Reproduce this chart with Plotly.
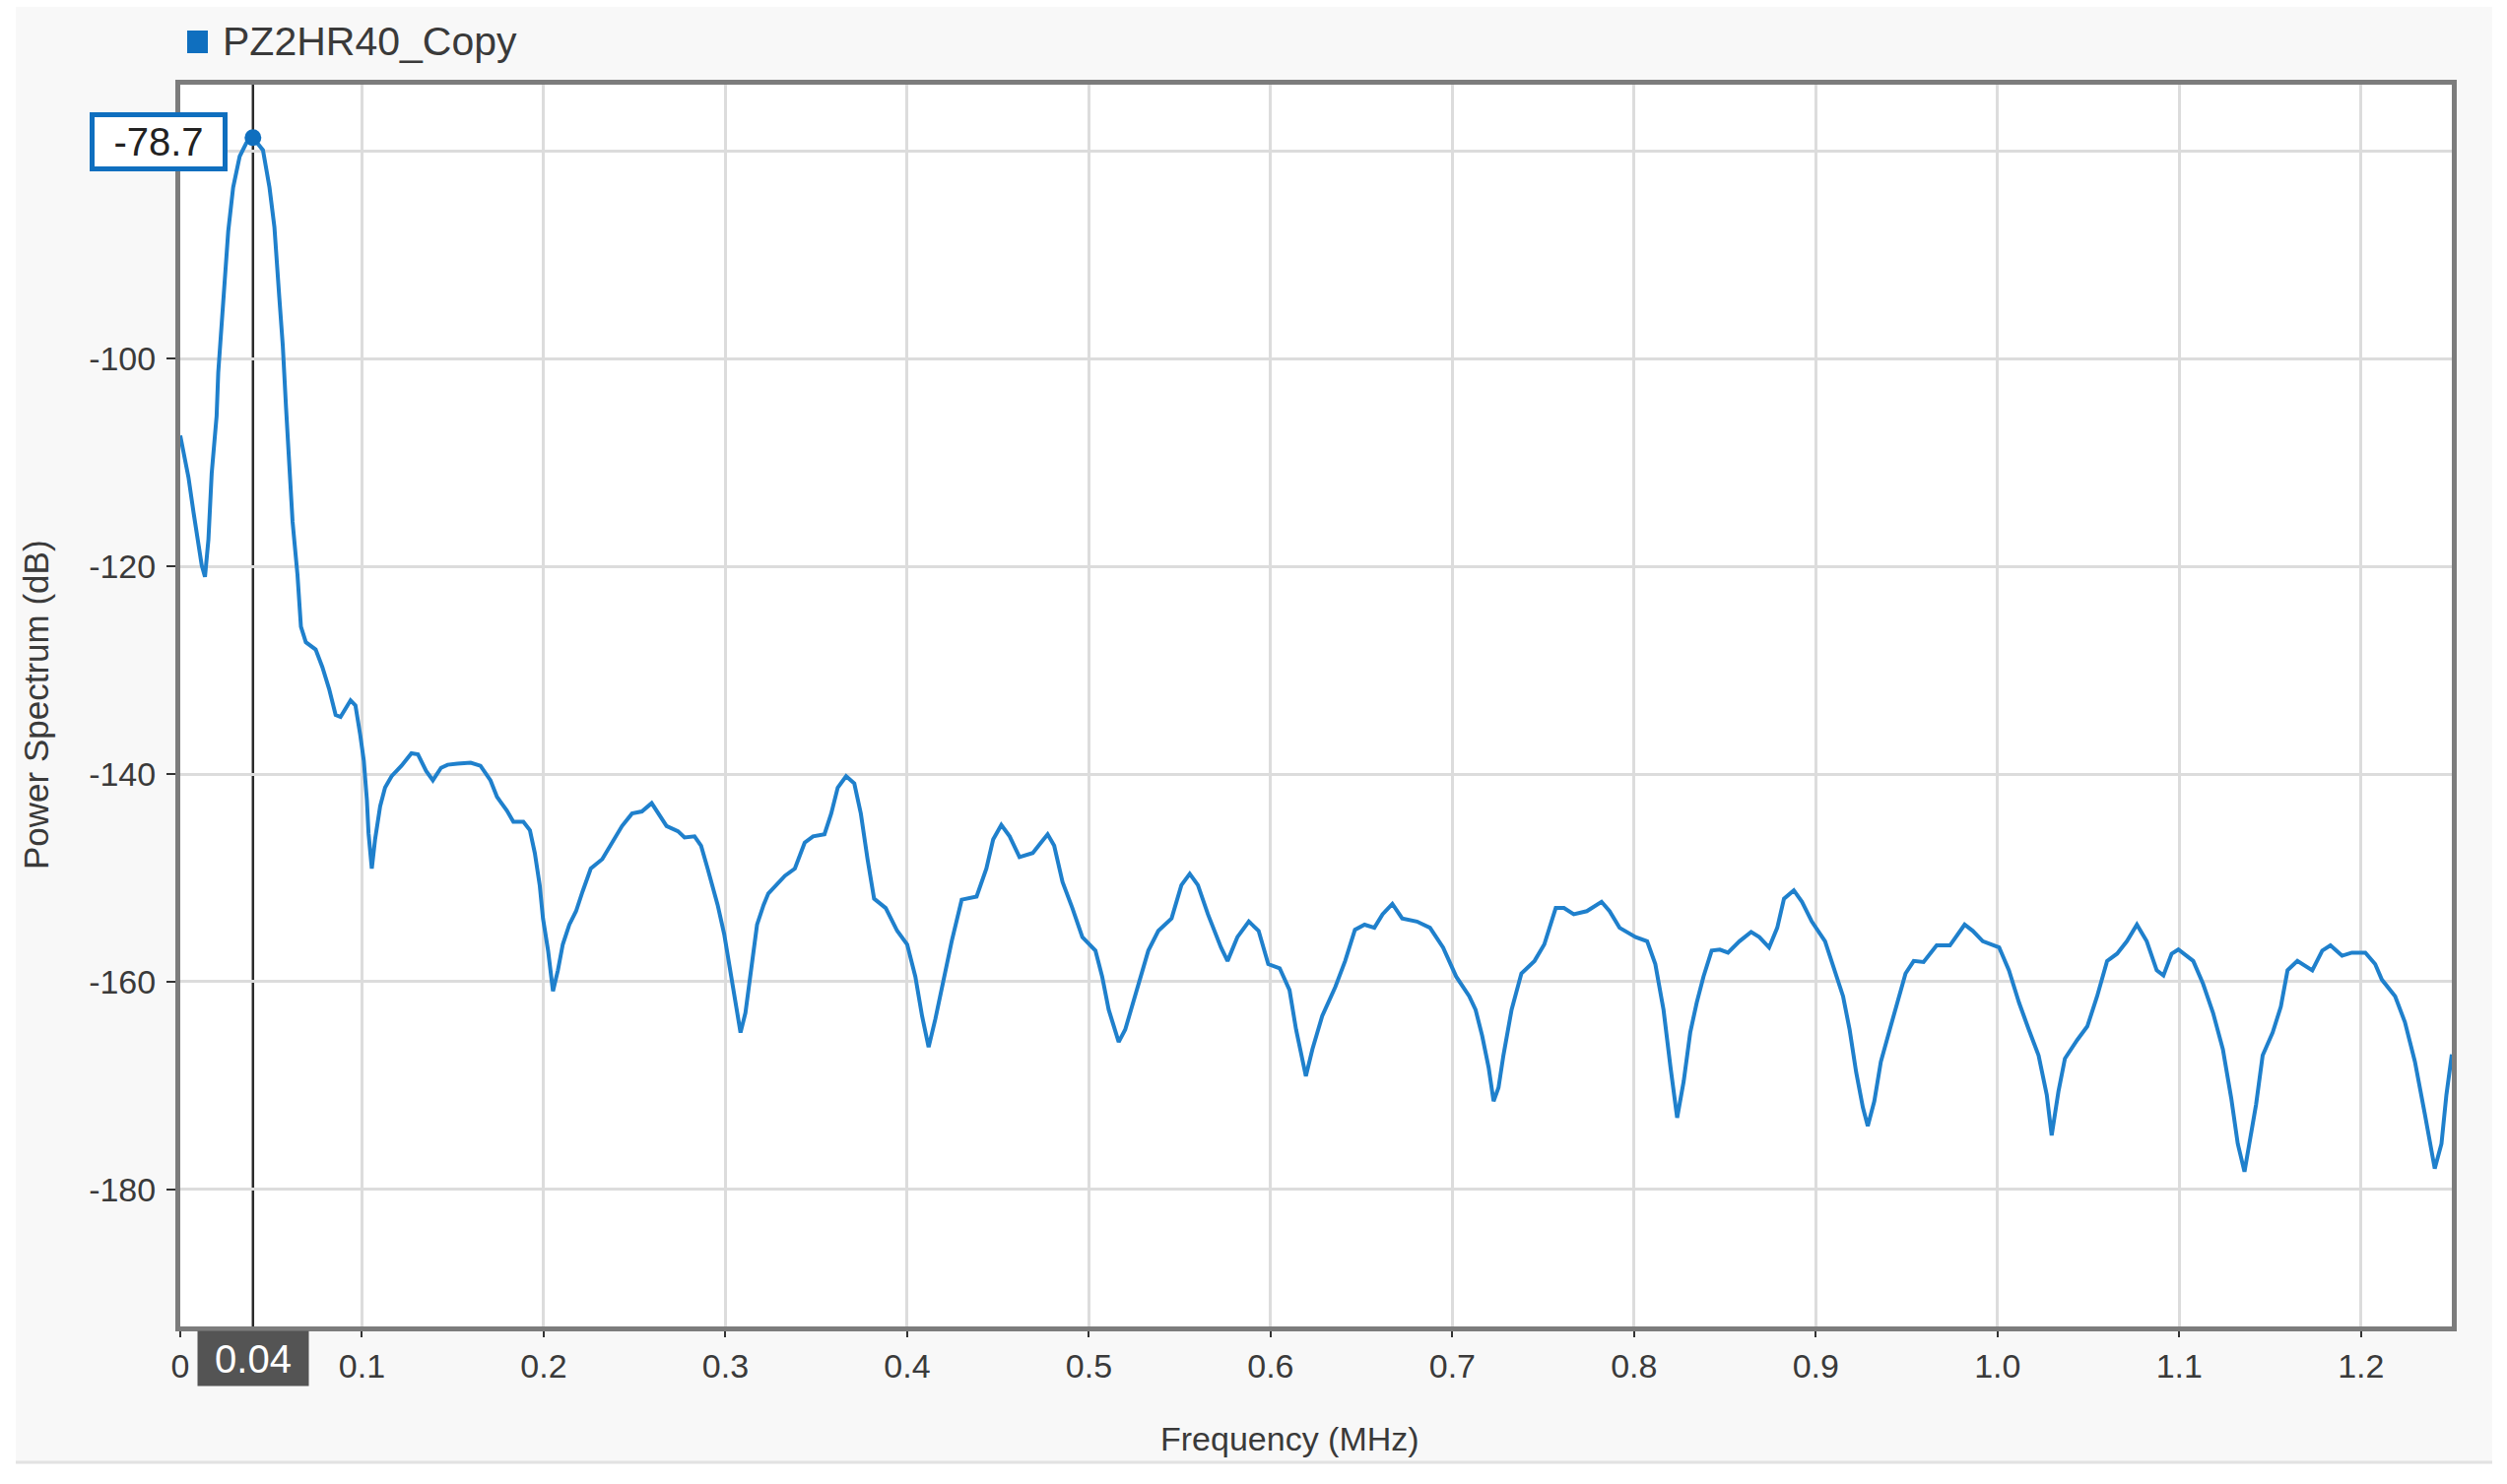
import plotly.graph_objects as go

FIG_W, FIG_H = 2545, 1507
PLOT_L, PLOT_R, PLOT_T, PLOT_B = 183, 2489, 86, 1347
FONT = "Liberation Sans, Arial, sans-serif"
LINE_BLUE = "#1f80cc"
MARK_BLUE = "#0f6fbf"
TEXT_COLOR = "#3a3a3a"

trace_name = "PZ2HR40_Copy"

freq_mhz = [
    0.0, 0.0018, 0.0045, 0.0073, 0.010, 0.0118, 0.0136, 0.0155, 0.0173, 0.020,
    0.0209, 0.0227, 0.0245, 0.0264, 0.0291, 0.0327, 0.0364, 0.040, 0.0455, 0.0491,
    0.0518, 0.0545, 0.0564, 0.0582, 0.060, 0.0618, 0.0645, 0.0664, 0.0691, 0.0745,
    0.0782, 0.0819, 0.0855, 0.0882, 0.0937, 0.0964, 0.099, 0.101, 0.1027, 0.1036,
    0.1054, 0.1072, 0.110, 0.1127, 0.1163, 0.1217, 0.1272, 0.1308, 0.1353, 0.139,
    0.1435, 0.1471, 0.1525, 0.1598, 0.1652, 0.1707, 0.1743, 0.1797, 0.1833, 0.1888,
    0.1924, 0.1951, 0.1978, 0.1996, 0.2024, 0.2051, 0.2078, 0.2105, 0.2141, 0.2178,
    0.2214, 0.2259, 0.2322, 0.2377, 0.2431, 0.2486, 0.254, 0.2594, 0.263, 0.2676,
    0.2739, 0.2775, 0.283, 0.2866, 0.2902, 0.2957, 0.2993, 0.3029, 0.3056, 0.3083,
    0.311, 0.3138, 0.3174, 0.321, 0.3236, 0.3327, 0.3382, 0.3436, 0.3482, 0.3545,
    0.3582, 0.3618, 0.3664, 0.3709, 0.3745, 0.3782, 0.3818, 0.3882, 0.3945, 0.400,
    0.4045, 0.4082, 0.4118, 0.4155, 0.420, 0.4245, 0.430, 0.4382, 0.4436, 0.4473,
    0.4518, 0.4564, 0.4618, 0.4691, 0.4736, 0.4773, 0.4809, 0.4855, 0.4909, 0.4964,
    0.5036, 0.5073, 0.5109, 0.5164, 0.520, 0.5255, 0.5327, 0.5382, 0.5455, 0.5509,
    0.5555, 0.560, 0.5655, 0.5727, 0.5763, 0.5817, 0.588, 0.5934, 0.5987, 0.605,
    0.6104, 0.614, 0.6194, 0.623, 0.6284, 0.6356, 0.641, 0.6464, 0.6517, 0.6571,
    0.6616, 0.667, 0.6724, 0.6805, 0.6877, 0.6949, 0.7021, 0.7093, 0.7128, 0.7164,
    0.720, 0.7227, 0.7254, 0.7281, 0.7326, 0.738, 0.7452, 0.7506, 0.7569, 0.7614,
    0.7668, 0.774, 0.7821, 0.7865, 0.792, 0.8009, 0.8072, 0.8117, 0.8162, 0.8201,
    0.8237, 0.8273, 0.8309, 0.8345, 0.8382, 0.8427, 0.8472, 0.8517, 0.858, 0.8644,
    0.8689, 0.8743, 0.8788, 0.8825, 0.8879, 0.8924, 0.8978, 0.9051, 0.9105, 0.915,
    0.9186, 0.9222, 0.9259, 0.9286, 0.9322, 0.9358, 0.9412, 0.9458, 0.9494, 0.9539,
    0.9593, 0.9665, 0.9738, 0.9819, 0.9864, 0.9919, 1.0009, 1.0063, 1.0118, 1.0172,
    1.0226, 1.0271, 1.0298, 1.0335, 1.0371, 1.0439, 1.0494, 1.0548, 1.0603, 1.0658,
    1.0712, 1.0767, 1.0821, 1.0876, 1.0913, 1.0958, 1.0995, 1.1077, 1.1131, 1.1186,
    1.124, 1.1286, 1.1322, 1.1359, 1.1395, 1.1423, 1.1459, 1.1514, 1.1559, 1.1596,
    1.165, 1.1732, 1.1787, 1.1832, 1.1896, 1.195, 1.2024, 1.2078, 1.2115, 1.2188,
    1.2242, 1.2297, 1.2352, 1.2406, 1.2443, 1.247, 1.25,
]

power_db = [
    -107.4, -108.9, -111.4, -114.8, -117.8, -119.9, -121.0, -117.4, -111.0, -105.5,
    -101.3, -96.2, -92.4, -87.7, -83.5, -80.5, -79.2, -78.7, -79.9, -83.5,
    -87.3, -94.1, -98.7, -104.7, -110.2, -115.7, -120.8, -125.8, -127.3, -128.0,
    -129.7, -131.8, -134.3, -134.5, -132.9, -133.4, -136.2, -138.7, -142.5, -145.7,
    -149.1, -146.3, -143.1, -141.3, -140.2, -139.2, -138.0, -138.1, -139.7, -140.6,
    -139.4, -139.1, -139.0, -138.9, -139.2, -140.6, -142.2, -143.5, -144.6, -144.6,
    -145.4, -147.6, -150.7, -153.9, -157.0, -160.9, -158.9, -156.4, -154.5, -153.2,
    -151.3, -149.1, -148.2, -146.6, -145.0, -143.8, -143.6, -142.8, -143.8, -145.0,
    -145.5, -146.1, -146.0, -146.9, -149.1, -152.6, -155.4, -159.2, -162.4, -164.9,
    -163.0, -159.2, -154.5, -152.6, -151.5, -149.8, -149.1, -146.6, -146.0, -145.8,
    -143.8, -141.3, -140.2, -140.9, -143.8, -148.2, -152.0, -152.9, -155.1, -156.4,
    -159.5, -163.3, -166.3, -163.6, -159.8, -156.1, -152.1, -151.8, -149.1, -146.3,
    -144.9, -146.0, -148.0, -147.6, -146.6, -145.8, -146.9, -150.4, -152.9, -155.7,
    -157.0, -159.5, -162.7, -165.8, -164.6, -161.4, -157.0, -155.1, -153.9, -150.7,
    -149.6, -150.7, -153.5, -156.7, -158.0, -155.7, -154.2, -155.1, -158.3, -158.7,
    -160.8, -164.6, -169.1, -166.5, -163.3, -160.5, -158.0, -155.0, -154.5, -154.8,
    -153.5, -152.5, -153.9, -154.2, -154.8, -156.7, -159.5, -161.4, -162.7, -165.2,
    -168.3, -171.5, -170.2, -167.1, -162.7, -159.2, -158.0, -156.4, -152.9, -152.9,
    -153.5, -153.2, -152.3, -153.2, -154.8, -155.7, -156.1, -158.3, -162.7, -168.3,
    -173.1, -169.6, -164.9, -162.0, -159.5, -157.0, -156.9, -157.2, -156.1, -155.2,
    -155.7, -156.7, -154.8, -152.0, -151.2, -152.3, -154.2, -156.1, -158.9, -161.4,
    -164.6, -168.7, -172.1, -173.9, -171.5, -167.7, -164.3, -161.4, -159.2, -158.0,
    -158.1, -156.5, -156.5, -154.5, -155.1, -156.1, -156.7, -158.9, -162.0, -164.6,
    -167.1, -170.9, -174.8, -170.6, -167.4, -165.6, -164.3, -161.4, -158.0, -157.3,
    -156.1, -154.5, -156.1, -158.9, -159.4, -157.3, -156.9, -158.0, -160.2, -163.0,
    -166.5, -171.2, -175.6, -178.3, -174.6, -171.8, -167.1, -164.9, -162.4, -158.9,
    -158.0, -158.9, -157.0, -156.5, -157.5, -157.2, -157.2, -158.3, -159.8, -161.4,
    -163.9, -167.7, -172.8, -178.0, -175.6, -170.9, -167.0,
]

cursor_freq = 0.04
cursor_db = -78.7

x_ticks = [0, 0.1, 0.2, 0.3, 0.4, 0.5, 0.6, 0.7, 0.8, 0.9, 1.0, 1.1, 1.2]
x_tick_labels = ["0", "0.1", "0.2", "0.3", "0.4", "0.5", "0.6", "0.7", "0.8",
                 "0.9", "1.0", "1.1", "1.2"]
# the -80 label sits under the cursor value box, so it is left blank
y_ticks = [-180, -160, -140, -120, -100, -80]
y_tick_labels = ["-180", "-160", "-140", "-120", "-100", ""]


def px_x(px):
    return (px - PLOT_L) / (PLOT_R - PLOT_L)


def px_y(py):
    return (PLOT_B - py) / (PLOT_B - PLOT_T)


fig = go.Figure()
fig.add_trace(
    go.Scatter(
        name=trace_name,
        x=freq_mhz,
        y=power_db,
        mode="lines",
        line={"color": LINE_BLUE, "width": 4},
        showlegend=False,
    )
)
fig.add_trace(
    go.Scatter(
        name="cursor",
        x=[cursor_freq],
        y=[cursor_db],
        mode="markers",
        marker={"color": MARK_BLUE, "size": 17},
        showlegend=False,
        cliponaxis=False,
    )
)

shapes = [
    # white frame around the light grey panel
    dict(type="rect", xref="paper", yref="paper", x0=px_x(0), x1=px_x(16),
         y0=px_y(FIG_H), y1=px_y(0), fillcolor="white", line_width=0, layer="below"),
    dict(type="rect", xref="paper", yref="paper", x0=px_x(2530), x1=px_x(FIG_W),
         y0=px_y(FIG_H), y1=px_y(0), fillcolor="white", line_width=0, layer="below"),
    dict(type="rect", xref="paper", yref="paper", x0=px_x(0), x1=px_x(FIG_W),
         y0=px_y(7), y1=px_y(0), fillcolor="white", line_width=0, layer="below"),
    dict(type="rect", xref="paper", yref="paper", x0=px_x(0), x1=px_x(FIG_W),
         y0=px_y(FIG_H), y1=px_y(1486), fillcolor="white", line_width=0, layer="below"),
    dict(type="line", xref="paper", yref="paper", x0=px_x(16), x1=px_x(2530),
         y0=px_y(1485), y1=px_y(1485), line={"color": "#e2e2e2", "width": 3}),
    # legend swatch
    dict(type="rect", xref="paper", yref="paper", x0=px_x(190), x1=px_x(211),
         y0=px_y(54), y1=px_y(31), fillcolor=MARK_BLUE, line_width=0),
    # cursor line
    dict(type="line", xref="x", yref="paper", x0=cursor_freq, x1=cursor_freq,
         y0=0, y1=1, line={"color": "#2a2a2a", "width": 2.5}, layer="below"),
]

annotations = [
    dict(text=trace_name, xref="paper", yref="paper", x=px_x(224), y=px_y(42),
         xanchor="left", yanchor="middle", showarrow=False,
         font={"size": 41, "color": TEXT_COLOR, "family": FONT}),
    dict(text="Frequency (MHz)", xref="paper", yref="paper", x=px_x(1309),
         y=px_y(1461), xanchor="center", yanchor="middle", showarrow=False,
         font={"size": 34, "color": TEXT_COLOR, "family": FONT}),
    dict(text="Power Spectrum (dB)", xref="paper", yref="paper", x=px_x(36),
         y=px_y(716), xanchor="center", yanchor="middle", textangle=-90,
         showarrow=False, font={"size": 35, "color": TEXT_COLOR, "family": FONT}),
    dict(text=f"{cursor_db}", x=cursor_freq, y=cursor_db, xref="x", yref="y",
         xanchor="right", yanchor="middle", xshift=-26, yshift=-4, showarrow=False,
         width=126, height=46, borderpad=2, borderwidth=5, bordercolor=MARK_BLUE,
         bgcolor="white", align="center",
         font={"size": 40, "color": "#222222", "family": FONT}),
    dict(text=f"{cursor_freq:.2f}", x=cursor_freq, y=0, xref="x", yref="paper",
         xanchor="center", yanchor="top", yshift=-4, showarrow=False,
         width=112, height=55, borderpad=0, bgcolor="#545454",
         font={"size": 40, "color": "white", "family": FONT}),
]

fig.update_layout(
    width=FIG_W,
    height=FIG_H,
    margin=dict(l=PLOT_L, r=FIG_W - PLOT_R, t=PLOT_T, b=FIG_H - PLOT_B),
    paper_bgcolor="#f8f8f8",
    plot_bgcolor="white",
    font={"family": FONT, "color": TEXT_COLOR, "size": 34},
    showlegend=False,
    shapes=shapes,
    annotations=annotations,
)
axis_style = dict(
    tickfont={"size": 34, "color": TEXT_COLOR},
    ticks="outside",
    tickwidth=2,
    tickcolor="#333333",
    showgrid=True,
    gridcolor="#dcdcdc",
    gridwidth=2.5,
    zeroline=False,
    showline=True,
    linecolor="#7c7c7c",
    linewidth=5,
    mirror=True,
)
fig.update_xaxes(
    range=[0, 1.25],
    tickmode="array",
    tickvals=x_ticks,
    ticktext=x_tick_labels,
    ticklen=6,
    **axis_style,
)
fig.update_yaxes(
    range=[-193.2, -73.6],
    tickmode="array",
    tickvals=y_ticks,
    ticktext=y_tick_labels,
    ticklen=9,
    ticklabelstandoff=4,
    **axis_style,
)

# drop the browser's default body margin so the figure sits at the page corner
fig.write_html(
    "out.html",
    config={"displayModeBar": False},
    post_script="document.body.style.margin = '0';",
)
